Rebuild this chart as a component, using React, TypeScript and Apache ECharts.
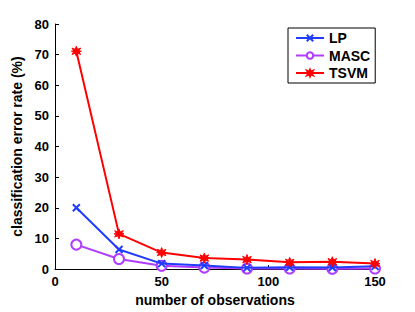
import React, { useEffect, useRef } from "react";
import * as echarts from "echarts";

const xValues = [10, 30, 50, 70, 90, 110, 130, 150];
const lpValues = [20, 6.4, 1.8, 1.2, 0.4, 0.6, 0.5, 0.9];
const mascValues = [8, 3.3, 1.1, 0.5, 0.2, 0.2, 0.1, 0.2];
const tsvmValues = [71.1, 11.5, 5.4, 3.6, 3.1, 2.2, 2.4, 1.8];
const seriesNames = ["LP", "MASC", "TSVM"];

const xSymbol = "path://M0,0L10,10M10,0L0,10";
const starSymbol =
  "path://M5,0L6.2,3.1L9.3,1.8L7.6,4.6L10,5L7.6,5.4L9.3,8.2L6.2,6.9L5,10L3.8,6.9L0.7,8.2L2.4,5.4L0,5L2.4,4.6L0.7,1.8L3.8,3.1Z";

export default function App() {
  const ref = useRef<HTMLDivElement>(null);
  useEffect(() => {
    if (!ref.current) return;
    const chart = echarts.init(ref.current, undefined, { renderer: "svg" });
    const font = "Liberation Sans, Arial, Helvetica, sans-serif";
    const pair = (ys: number[]) => xValues.map((x, i) => [x, ys[i]]);
    chart.setOption({
      animation: false,
      backgroundColor: "#ffffff",
      grid: { left: 55, right: 40, top: 24, bottom: 35 },
      legend: {
        orient: "vertical",
        left: 288,
        top: 28,
        padding: [3, 5, 3, 7],
        itemGap: 3.5,
        itemWidth: 28,
        itemHeight: 8,
        borderColor: "#000",
        borderWidth: 1,
        borderRadius: 0,
        backgroundColor: "#fff",
        textStyle: { fontFamily: font, fontWeight: "bold", fontSize: 14, color: "#000", lineHeight: 14 },
        data: seriesNames,
      },
      xAxis: {
        type: "value",
        min: 0,
        max: 150,
        interval: 50,
        name: "number of observations",
        nameLocation: "middle",
        nameGap: 19,
        nameTextStyle: { fontFamily: font, fontWeight: "bold", fontSize: 14, color: "#000" },
        axisLine: { lineStyle: { color: "#000", width: 1 } },
        axisTick: { inside: true, length: 4, lineStyle: { color: "#000" } },
        axisLabel: { fontFamily: font, fontWeight: "bold", fontSize: 13, color: "#000", margin: 6 },
        splitLine: { show: false },
      },
      yAxis: {
        type: "value",
        min: 0,
        max: 80,
        interval: 10,
        name: "classification error rate (%)",
        nameLocation: "middle",
        nameGap: 24,
        nameTextStyle: { fontFamily: font, fontWeight: "bold", fontSize: 14, color: "#000" },
        axisLine: { show: true, lineStyle: { color: "#000", width: 1 } },
        axisTick: { show: true, inside: true, length: 4, lineStyle: { color: "#000" } },
        axisLabel: { fontFamily: font, fontWeight: "bold", fontSize: 13, color: "#000", margin: 6 },
        splitLine: { show: false },
      },
      series: [
        {
          name: "LP",
          type: "line",
          data: pair(lpValues),
          symbol: xSymbol,
          symbolSize: 7,
          showAllSymbol: true,
          lineStyle: { color: "#1f3cff", width: 2 },
          itemStyle: { color: "#1f3cff", borderColor: "#1f3cff", borderWidth: 2 },
          z: 3,
        },
        {
          name: "MASC",
          type: "line",
          data: pair(mascValues),
          symbol: "circle",
          symbolSize: 10,
          showAllSymbol: true,
          lineStyle: { color: "#b03cff", width: 2 },
          itemStyle: { color: "#ffffff", borderColor: "#b03cff", borderWidth: 2 },
          z: 2,
        },
        {
          name: "TSVM",
          type: "line",
          data: pair(tsvmValues),
          symbol: starSymbol,
          symbolSize: 10,
          showAllSymbol: true,
          lineStyle: { color: "#ff0000", width: 2 },
          itemStyle: { color: "#ff0000", borderColor: "#ff0000", borderWidth: 1 },
          z: 4,
        },
      ],
    });
    return () => chart.dispose();
  }, []);
  return (
    <div
      ref={ref}
      style={{ position: "absolute", left: 0, top: 0, width: 415, height: 312 }}
    />
  );
}
